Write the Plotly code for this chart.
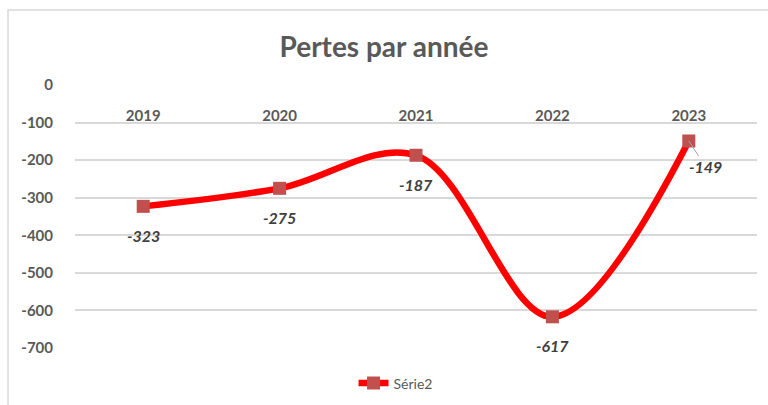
import plotly.graph_objects as go

years = ["2019", "2020", "2021", "2022", "2023"]
losses = [-323, -275, -187, -617, -149]
label_text = ["-323", "-275", "-187", "-617", "-149"]
y_ticks = [0, -100, -200, -300, -400, -500, -600, -700]
y_tick_text = ["0", "-100", "-200", "-300", "-400", "-500", "-600", "-700"]

xpos = list(range(len(years)))

fig = go.Figure()
fig.add_trace(go.Scatter(
    x=xpos, y=losses, mode="lines+markers", name="Série2",
    line=dict(color="#FF0000", width=6.5, shape="spline", smoothing=1.0),
    marker=dict(symbol="square", size=13, color="#C0504D"),
))

lab_font = dict(family="Lato", size=16, color="#404040", weight="bold", style="italic")
for i, (x, y, t) in enumerate(zip(xpos, losses, label_text)):
    if i == len(years) - 1:
        fig.add_annotation(x=x, y=y, text=t, showarrow=True, arrowhead=0,
                           arrowcolor="#A6A6A6", arrowwidth=1, ax=17, ay=26,
                           standoff=0, font=lab_font)
    else:
        fig.add_annotation(x=x, y=y, text=t, showarrow=False, yshift=-29, font=lab_font)

fig.add_shape(type="rect", xref="paper", yref="paper",
              x0=-0.0982, x1=1.03, y0=-0.25, y1=1.285,
              line=dict(color="#D9D9D9", width=1.5), fillcolor="rgba(0,0,0,0)", layer="below")

tick_font = dict(family="Lato", size=15, color="#595959", weight="bold")
fig.update_layout(
    width=768, height=405,
    margin=dict(l=75, r=11, t=85, b=57, autoexpand=False),
    paper_bgcolor="white", plot_bgcolor="white",
    title=dict(text="Pertes par année", x=0.5, xanchor="center", y=0.884, yanchor="middle",
               font=dict(family="Lato", size=28, color="#595959", weight="bold")),
    showlegend=True,
    legend=dict(orientation="h", x=0.47, xanchor="center", y=-0.135, yanchor="middle",
                font=dict(family="Lato", size=14, color="#595959")),
    xaxis=dict(range=[-0.5, len(years) - 0.5], tickvals=xpos, ticktext=years,
               anchor="free", position=1, side="bottom", automargin=False,
               showgrid=False, showline=False, zeroline=False,
               ticks="outside", ticklen=17, tickcolor="rgba(0,0,0,0)",
               tickfont=tick_font),
    yaxis=dict(range=[-700, 0], tickvals=y_ticks, ticktext=y_tick_text, automargin=False,
               showgrid=True, gridcolor="#D9D9D9", gridwidth=1.5,
               zeroline=False, showline=False,
               ticks="outside", ticklen=18, tickcolor="rgba(0,0,0,0)",
               tickfont=tick_font),
)

fig.write_html("out.html", config={"displayModeBar": False},
               post_script="document.body.style.margin='0';")
